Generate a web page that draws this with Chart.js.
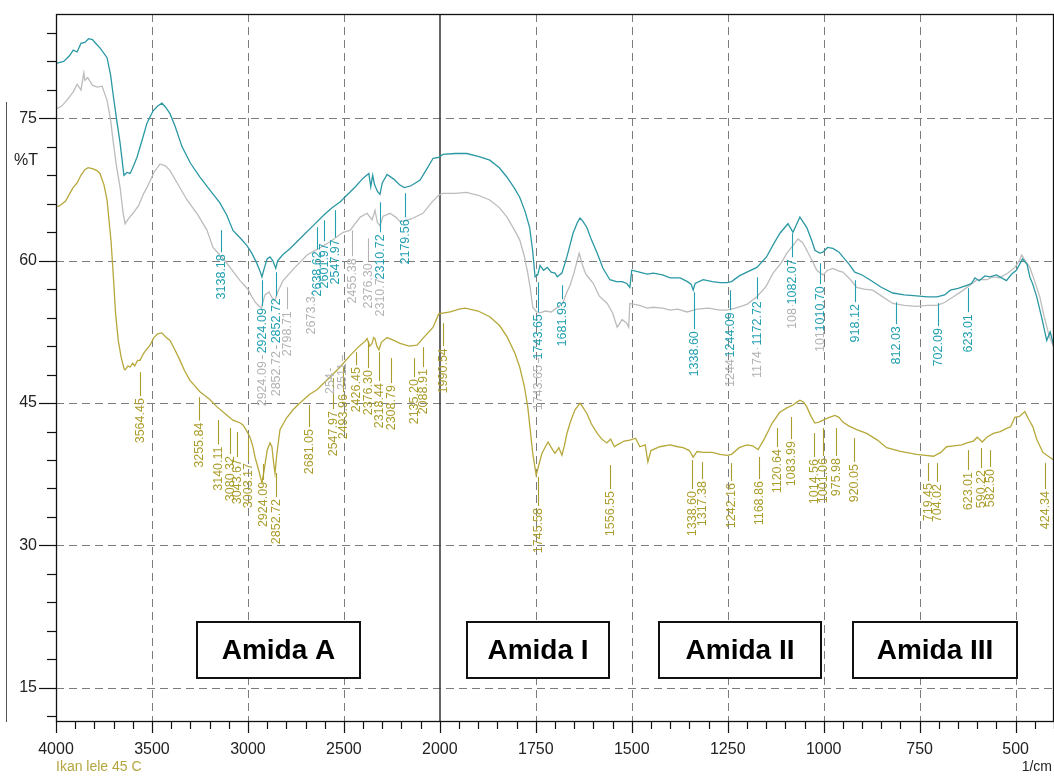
<!DOCTYPE html>
<html>
<head>
<meta charset="utf-8">
<script src="https://cdn.jsdelivr.net/npm/chart.js@4.4.1/dist/chart.umd.min.js"></script>
<style>
  html, body { margin: 0; padding: 0; background: #ffffff; }
  #wrap { width: 1054px; height: 776px; position: relative; }
  canvas { display: block; }
</style>
</head>
<body>
<div id="wrap"><canvas id="c" width="1054" height="776"></canvas></div>
<script>
// ---------------- DATA ----------------
const xTickValues = [4000, 3500, 3000, 2500, 2000, 1750, 1500, 1250, 1000, 750, 500];
const yTickValues = [15, 30, 45, 60, 75];

const tealWavenumber = [4000,3960,3930,3910,3890,3870,3850,3830,3810,3797,3770,3734,3715,3703,3685,3666,3652,3646,3630,3614,3600,3578,3550,3526,3494,3470,3448,3430,3406,3380,3343,3300,3250,3200,3146,3110,3078,3040,3005,2980,2955,2935,2927,2915,2900,2885,2870,2855,2845,2820,2780,2720,2660,2600,2560,2520,2490,2440,2400,2370,2360,2350,2340,2325,2312,2300,2275,2240,2210,2185,2150,2103,2070,2035,2006,1992,1960,1930,1900,1870,1845,1825,1805,1792,1778,1766,1758,1752,1745,1739,1730,1720,1710,1700,1694,1682,1675,1669,1653,1642,1635,1628,1617,1605,1590,1575,1557,1540,1525,1513,1505,1500,1480,1460,1444,1420,1400,1374,1355,1345,1340,1335,1314,1290,1270,1252,1240,1220,1200,1174,1149,1130,1114,1093,1080,1062,1044,1030,1023,1010,1002,990,976,960,950,935,919,900,880,850,820,790,758,730,705,685,670,650,627,615,606,595,580,567,550,524,510,498,482,470,463,455,445,432,419,410,401];
const tealTransmittance = [80.8,81.0,81.6,82.2,82.0,82.9,83.0,83.4,83.3,83.0,82.4,81.4,79.5,77.6,75.0,72.4,70.0,69.0,69.3,69.2,69.8,70.9,72.8,74.5,75.8,76.3,76.6,76.2,75.5,74.2,72.0,70.3,68.8,67.5,66.1,64.8,63.2,62.4,61.6,60.8,59.8,58.8,58.3,59.2,60.2,60.4,60.0,59.2,60.0,60.6,61.3,62.5,63.7,64.9,65.6,66.2,66.8,67.8,68.7,69.2,67.8,69.0,68.0,67.3,67.0,68.2,69.1,68.6,68.0,67.7,67.9,68.5,69.6,70.8,70.9,71.2,71.3,71.3,71.0,70.6,69.8,68.8,67.6,66.7,65.2,63.5,61.0,58.3,58.5,59.5,59.0,59.3,58.8,58.7,58.3,58.7,59.6,60.4,62.9,64.0,64.5,64.2,63.5,62.2,60.8,59.2,58.0,57.8,57.8,57.6,57.2,59.0,58.8,58.6,58.7,58.5,58.2,58.2,57.8,57.5,56.9,57.6,58.0,57.8,57.7,57.7,57.8,58.4,58.8,59.3,60.4,61.8,62.9,63.9,63.0,64.6,63.5,62.0,61.1,60.8,60.9,61.4,61.3,60.9,60.4,59.7,58.8,58.5,58.0,57.2,56.6,56.4,56.3,56.2,56.2,56.4,56.9,57.1,57.4,57.6,58.2,57.9,58.4,58.3,58.5,57.9,58.6,59.0,60.2,59.6,58.3,57.5,56.2,54.0,51.6,52.5,51.1];

const grayWavenumber = [4000,3970,3940,3910,3890,3870,3855,3849,3835,3810,3786,3760,3734,3715,3703,3685,3666,3650,3640,3620,3599,3570,3545,3526,3490,3458,3430,3406,3360,3317,3260,3213,3182,3120,3041,3000,2979,2960,2947,2930,2920,2911,2890,2874,2860,2845,2817,2760,2692,2630,2572,2504,2468,2415,2379,2353,2338,2325,2312,2295,2260,2230,2207,2150,2088,2040,2006,1992,1960,1930,1900,1870,1845,1825,1805,1792,1780,1771,1764,1758,1748,1739,1725,1710,1700,1690,1680,1670,1660,1650,1637,1628,1620,1608,1600,1585,1564,1550,1538,1525,1513,1508,1505,1480,1460,1444,1420,1400,1380,1356,1330,1300,1270,1253,1230,1200,1174,1150,1132,1110,1096,1080,1067,1055,1044,1030,1018,1002,990,976,960,950,930,914,895,872,850,820,790,758,730,705,685,662,640,620,600,575,560,541,520,502,490,484,475,463,450,437,425,412,401];
const grayTransmittance = [76.0,76.3,77.0,77.8,78.6,78.0,79.8,79.0,79.3,78.5,78.3,78.4,76.9,74.8,72.7,70.0,67.7,65.0,63.9,64.5,65.0,65.8,67.0,67.7,69.3,70.2,70.0,69.5,67.9,66.4,64.8,63.2,61.4,60.0,57.9,57.0,56.2,55.6,55.3,55.0,55.8,56.4,56.7,56.1,55.8,56.7,57.9,59.2,60.6,61.3,62.0,63.0,63.2,64.6,65.0,64.3,65.3,64.0,63.7,64.7,65.0,64.6,64.1,64.4,65.0,66.2,66.9,67.1,67.1,67.2,66.9,66.4,65.6,64.6,63.2,62.2,60.5,58.7,57.0,55.1,54.6,54.5,54.7,54.6,54.9,55.2,55.5,56.6,57.5,58.8,60.8,59.5,58.6,58.0,57.6,56.3,55.5,54.5,53.0,53.8,53.4,53.0,55.5,55.3,55.0,55.1,55.0,54.8,54.9,54.6,54.9,55.0,54.8,54.8,55.0,55.4,56.2,57.3,58.7,59.8,60.8,61.6,62.3,61.9,61.1,60.0,59.0,58.5,59.0,59.2,58.9,58.8,58.0,57.2,57.0,56.9,56.3,55.5,55.3,55.2,55.3,55.3,55.6,56.2,56.8,57.4,58.0,58.0,58.3,58.2,58.7,59.3,60.0,60.6,60.0,59.3,57.8,56.2,54.0,52.0,50.9];

const oliveWavenumber = [4000,3980,3950,3925,3911,3890,3870,3850,3833,3810,3786,3771,3750,3734,3713,3700,3690,3675,3660,3645,3640,3625,3614,3600,3590,3575,3562,3545,3530,3510,3490,3470,3448,3430,3406,3380,3354,3330,3302,3250,3200,3161,3120,3078,3040,3026,3010,2989,2975,2963,2945,2927,2915,2900,2885,2875,2865,2859,2850,2833,2800,2765,2729,2680,2640,2580,2520,2468,2420,2390,2379,2365,2353,2345,2338,2328,2317,2305,2275,2240,2207,2160,2119,2080,2035,2006,1973,1950,1934,1900,1870,1845,1825,1805,1792,1780,1771,1764,1758,1749,1742,1734,1725,1718,1708,1700,1690,1682,1675,1669,1660,1648,1640,1635,1628,1617,1605,1590,1578,1565,1555,1545,1538,1520,1505,1490,1479,1465,1458,1450,1427,1400,1380,1366,1350,1340,1330,1314,1290,1270,1252,1240,1220,1200,1185,1171,1155,1134,1115,1096,1080,1070,1062,1052,1044,1033,1023,1012,1002,985,971,960,950,935,914,888,860,836,800,758,735,714,695,680,660,640,627,610,600,587,575,558,540,525,513,502,490,476,466,455,445,429,415,401];
const oliveTransmittance = [65.7,65.8,66.3,67.2,67.7,68.2,69.0,69.6,69.8,69.7,69.5,69.2,68.0,66.4,62.0,58.0,54.5,51.5,49.8,48.6,48.5,48.9,48.8,49.2,48.9,49.5,49.5,50.2,50.6,51.1,51.9,52.3,52.4,52.0,51.6,50.6,49.5,48.4,47.4,46.2,45.4,44.6,43.9,43.2,42.9,42.7,42.2,41.4,40.5,39.3,38.0,36.6,38.0,40.0,40.8,40.4,38.5,37.6,39.5,42.2,43.4,44.3,45.0,45.9,46.4,47.6,48.8,50.0,51.0,51.5,51.8,51.0,51.3,51.9,51.8,51.0,50.6,51.4,51.9,51.6,51.3,51.0,51.1,52.0,53.0,54.4,54.6,54.9,55.0,54.7,54.1,53.2,52.0,50.3,48.8,46.8,44.6,42.0,39.7,37.4,38.5,39.7,40.4,40.9,40.2,39.7,40.3,39.5,40.6,41.8,43.0,44.3,44.7,45.0,44.6,43.9,42.8,41.8,41.2,40.8,41.2,40.4,40.6,41.0,41.1,41.3,40.4,40.6,38.8,40.0,40.4,40.6,40.4,40.3,40.0,39.3,39.9,39.8,39.8,39.6,39.5,39.6,40.3,40.6,40.5,40.1,41.2,42.9,44.0,44.5,44.8,45.1,45.3,45.1,44.6,43.6,42.9,43.0,43.2,43.5,43.7,43.5,43.0,42.6,42.2,41.8,41.1,40.3,39.9,39.6,39.5,39.4,39.8,40.4,40.5,40.6,40.8,41.0,41.4,40.9,41.4,41.8,42.0,42.3,42.5,43.5,43.6,44.1,43.3,42.5,41.2,39.8,39.4,39.0];

// Peak labels: text, wavenumber where drawn, %T at top of leader line, %T where text starts
const tealPeakText    = ["3138.18","2924.09","2852.72","2638.62","2601.97","2547.97","2310.72","2179.56","1743.65","1681.93","1338.60","1244.09","1172.72","1082.07","1010.70","918.12","812.03","702.09","623.01"];
const tealPeakX       = [3138.18,2924.09,2852.72,2638.62,2601.97,2547.97,2310.72,2179.56,1743.65,1681.93,1338.60,1244.09,1172.72,1082.07,1010.70,918.12,812.03,702.09,623.01];
const tealPeakTop     = [63.21,57.95,58.79,63.53,64.26,65.32,66.16,67.11,57.74,57.42,56.68,56.89,58.26,62.89,59.74,57.95,55.63,55.53,57.11];
const tealPeakTextTop = [60.79,55.11,56.16,61.10,61.95,62.37,62.89,64.47,54.47,55.84,52.68,54.68,55.84,60.26,57.42,55.53,53.21,53.00,54.47];

const grayPeakText    = ["2924.09","2852.72","2798.71","2673.3","254","2511","2455.38","2376.30","2310.7","1743.65","1244","1174","108","101"];
const grayPeakX       = [2924.09,2852.72,2798.71,2673.3,2572,2511,2455.38,2376.30,2310.72,1743.65,1244.09,1172.72,1082.07,1010.70];
const grayPeakTop     = [50.05,51.11,57.21,56.68,48.68,50.05,63.21,62.37,58.47,49.74,49.95,50.79,55.32,52.89];
const grayPeakTextTop = [49.53,50.58,54.79,56.37,48.26,49.32,60.37,59.84,58.26,49.11,49.74,50.58,55.11,52.68];

const olivePeakText    = ["3564.45","3255.84","3140.11","3080.32","3043.67","3003.17","2924.09","2852.72","2681.05","2547.97","2493.96","2426.45","2376.30","2318.44","2308.79","2135.20","2088.91","1990.54","1745.58","1556.55","1338.60","1317.38","1242.16","1168.86","1120.64","1083.99","1014.56","1001.06","975.98","920.05","719.45","704.02","623.01","590.22","582.50","424.34"];
const olivePeakX       = [3564.45,3255.84,3156,3093,3057,3000,2921,2852.72,2681.05,2556,2504,2437,2376.30,2318.44,2254,2135.20,2088.91,1990.54,1745.58,1556.55,1343,1317.38,1242.16,1168.86,1120.64,1083.99,1025,1001.06,968,920.05,728,704.02,623.01,590.22,566,424.34];
const olivePeakTop     = [48.26,45.63,43.21,42.37,41.95,41.32,38.58,37.63,44.79,47.63,48.79,50.37,51.53,50.37,49.74,49.74,50.89,53.42,37.21,38.47,39.00,38.79,38.68,39.32,42.37,43.53,41.84,42.37,42.37,41.32,38.68,38.68,40.05,40.26,40.05,38.68];
const olivePeakTextTop = [45.63,43.05,40.53,39.53,39.21,38.79,36.80,35.00,42.37,44.26,46.05,48.89,48.58,47.21,47.00,47.63,48.68,50.89,34.05,35.84,35.84,36.89,36.68,36.89,40.26,41.11,39.21,39.32,39.32,38.68,36.68,36.58,37.84,38.05,38.16,35.84];

// Region boxes: label, wavenumber left/right, %T top/bottom
const boxText   = ["Amida A", "Amida I", "Amida II", "Amida III"];
const boxLeft   = [3265, 1929, 1429, 923];
const boxRight  = [2416, 1559, 1007, 496];
const boxTop    = [21.95, 21.95, 21.95, 21.95];
const boxBottom = [16.05, 16.05, 16.05, 16.05];

// ---------------- SCALE TRANSFORM (FTIR scale: half compression above 2000 1/cm) ----------------
function toP(w) { return w >= 2000 ? 4000 - w : 2000 + 2 * (2000 - w); }
function fromP(p) { return p <= 2000 ? 4000 - p : 2000 - (p - 2000) / 2; }

function series(ws, ts) { return ws.map((w, i) => ({ x: toP(w), y: ts[i] })); }

const TEAL = '#2a98a3', TEAL_TXT = '#22a0b1';
const GRAY = '#bcbcbc', GRAY_TXT = '#b3b3b3';
const OLIVE = '#b6a83a', OLIVE_TXT = '#ab9d2c';
const FONT = '"Liberation Sans", Arial, sans-serif';

const overlay = {
  id: 'overlay',
  beforeDatasetsDraw(chart) {
    const { ctx, chartArea: a, scales: { x, y } } = chart;
    ctx.save();
    ctx.strokeStyle = '#7c7c7c';
    ctx.lineWidth = 1;
    ctx.setLineDash([8, 5]);
    xTickValues.forEach(w => {
      if (w === 4000 || w === 2000) return;
      const px = Math.round(x.getPixelForValue(toP(w))) + 0.5;
      ctx.beginPath(); ctx.moveTo(px, a.top); ctx.lineTo(px, a.bottom); ctx.stroke();
    });
    yTickValues.forEach(v => {
      const py = Math.round(y.getPixelForValue(v)) + 0.5;
      ctx.beginPath(); ctx.moveTo(a.left, py); ctx.lineTo(a.right, py); ctx.stroke();
    });
    ctx.setLineDash([]);
    // solid divider at 2000 1/cm
    const p2 = Math.round(x.getPixelForValue(toP(2000)));
    ctx.strokeStyle = '#333333';
    ctx.lineWidth = 1.5;
    ctx.beginPath(); ctx.moveTo(p2, a.top); ctx.lineTo(p2, a.bottom); ctx.stroke();
    ctx.restore();
  },
  afterDatasetsDraw(chart) {
    const { ctx, chartArea: a, scales: { x, y } } = chart;
    ctx.save();
    // frame
    ctx.strokeStyle = '#111';
    ctx.lineWidth = 1.3;
    ctx.strokeRect(a.left + 0.5, a.top + 0.5, a.right - a.left - 1, a.bottom - a.top);
    // x tick marks
    ctx.lineWidth = 1.2;
    for (let p = 0; p <= 5200; p += 100) {
      const px = Math.round(x.getPixelForValue(p)) + 0.5;
      const len = (p % 500 === 0) ? 12 : 8;
      ctx.beginPath(); ctx.moveTo(px, a.bottom); ctx.lineTo(px, a.bottom + len); ctx.stroke();
    }
    // y tick marks
    for (let v = 12; v <= 84; v += 3) {
      const py = Math.round(y.getPixelForValue(v)) + 0.5;
      const len = (v % 15 === 0) ? 17 : 9;
      ctx.beginPath(); ctx.moveTo(a.left, py); ctx.lineTo(a.left - len, py); ctx.stroke();
    }

    // peak labels
    function drawLabels(texts, xs, tops, textTops, color) {
      ctx.strokeStyle = color;
      ctx.fillStyle = color;
      ctx.lineWidth = 1.1;
      ctx.font = '12.5px ' + FONT;
      texts.forEach((t, i) => {
        const px = Math.round(x.getPixelForValue(toP(xs[i]))) + 0.5;
        const y1 = y.getPixelForValue(tops[i]);
        const y2 = y.getPixelForValue(textTops[i]);
        if (y2 - y1 > 1) {
          ctx.beginPath(); ctx.moveTo(px, y1); ctx.lineTo(px, y2 - 1); ctx.stroke();
        }
        ctx.save();
        ctx.translate(px, y2);
        ctx.rotate(-Math.PI / 2);
        ctx.textAlign = 'right';
        ctx.textBaseline = 'middle';
        ctx.fillText(t, -1, 0);
        ctx.restore();
      });
    }
    drawLabels(olivePeakText, olivePeakX, olivePeakTop, olivePeakTextTop, OLIVE_TXT);
    drawLabels(grayPeakText, grayPeakX, grayPeakTop, grayPeakTextTop, GRAY_TXT);
    drawLabels(tealPeakText, tealPeakX, tealPeakTop, tealPeakTextTop, TEAL_TXT);

    // region boxes
    boxText.forEach((t, i) => {
      const l = Math.round(x.getPixelForValue(toP(boxLeft[i])));
      const r = Math.round(x.getPixelForValue(toP(boxRight[i])));
      const tp = Math.round(y.getPixelForValue(boxTop[i]));
      const bt = Math.round(y.getPixelForValue(boxBottom[i]));
      ctx.fillStyle = '#ffffff';
      ctx.fillRect(l, tp, r - l, bt - tp);
      ctx.strokeStyle = '#111';
      ctx.lineWidth = 2;
      ctx.strokeRect(l, tp, r - l, bt - tp);
      ctx.fillStyle = '#000';
      ctx.font = 'bold 28px ' + FONT;
      ctx.textAlign = 'center';
      ctx.textBaseline = 'middle';
      ctx.fillText(t, (l + r) / 2, (tp + bt) / 2 + 1);
    });

    // axis titles and caption
    ctx.fillStyle = '#222';
    ctx.font = '16px ' + FONT;
    ctx.textAlign = 'left';
    ctx.textBaseline = 'middle';
    ctx.fillText('%T', 14, 161);
    ctx.font = '14px ' + FONT;
    ctx.textAlign = 'right';
    ctx.fillText('1/cm', 1052, 767);
    ctx.fillStyle = '#b5a640';
    ctx.textAlign = 'left';
    ctx.fillText('Ikan lele 45 C', 56, 767);

    // thin scan border at far left
    ctx.strokeStyle = '#555';
    ctx.lineWidth = 1;
    ctx.beginPath(); ctx.moveTo(6.5, 102); ctx.lineTo(6.5, 722); ctx.stroke();
    ctx.restore();
  }
};

const chart = new Chart(document.getElementById('c'), {
  type: 'line',
  data: {
    datasets: [
      { label: 'teal', data: series(tealWavenumber, tealTransmittance), borderColor: TEAL, borderWidth: 1.3, pointRadius: 0, tension: 0, fill: false },
      { label: 'gray', data: series(grayWavenumber, grayTransmittance), borderColor: GRAY, borderWidth: 1.3, pointRadius: 0, tension: 0, fill: false },
      { label: 'olive', data: series(oliveWavenumber, oliveTransmittance), borderColor: OLIVE, borderWidth: 1.3, pointRadius: 0, tension: 0, fill: false }
    ]
  },
  options: {
    responsive: false,
    animation: false,
    devicePixelRatio: 1,
    layout: { padding: { top: 14, right: 0, bottom: 0, left: 0 } },
    plugins: { legend: { display: false }, tooltip: { enabled: false }, title: { display: false } },
    scales: {
      x: {
        type: 'linear',
        min: 0,
        max: toP(400),
        afterBuildTicks: s => { s.ticks = xTickValues.map(w => ({ value: toP(w) })); },
        afterFit: s => { s.height = 55; s.paddingLeft = 0; s.paddingRight = 0; },
        ticks: {
          autoSkip: false, maxRotation: 0, minRotation: 0,
          padding: 19,
          color: '#222',
          font: { size: 16, family: FONT },
          callback: v => String(Math.round(fromP(v)))
        },
        grid: { display: false, drawTicks: false },
        border: { display: false }
      },
      y: {
        type: 'linear',
        min: 11.5,
        max: 86,
        afterBuildTicks: s => { s.ticks = yTickValues.map(v => ({ value: v })); },
        afterFit: s => { s.width = 56; s.paddingTop = 0; s.paddingBottom = 0; },
        ticks: {
          padding: 19,
          color: '#222',
          font: { size: 16, family: FONT },
          callback: v => String(v)
        },
        grid: { display: false, drawTicks: false },
        border: { display: false }
      }
    }
  },
  plugins: [overlay]
});
</script>
</body>
</html>
